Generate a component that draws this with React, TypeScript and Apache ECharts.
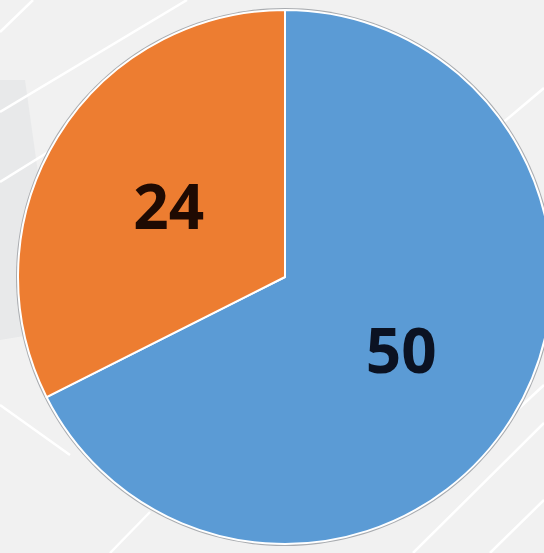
import React, { useEffect, useRef } from "react";
import * as echarts from "echarts";

const categories = ["A", "B"];
const values = [50, 24];
const sliceColors = ["#5B9BD5", "#ED7D31"];
const labelColors = ["#0b1222", "#1f0a02"];

// decorative background lines [x1, y1, x2, y2]
const bgLines = [
  [0, 32, 33, 0],
  [0, 112, 187, 0],
  [0, 182, 140, 95],
  [0, 405, 70, 455],
  [110, 553, 150, 512],
  [413, 553, 544, 423],
  [490, 553, 544, 500],
  [500, 125, 544, 88],
  [515, 412, 544, 385],
];

export default function App() {
  const ref = useRef<HTMLDivElement>(null);
  useEffect(() => {
    if (!ref.current) return;
    const chart = echarts.init(ref.current, null, { renderer: "svg" });
    const cx = 285;
    const cy = 277;
    const r = 267;
    chart.setOption({
      animation: false,
      backgroundColor: "#f1f1f1",
      graphic: [
        {
          type: "polygon",
          z: -10,
          shape: { points: [[0, 80], [25, 80], [60, 330], [0, 340]] },
          style: { fill: "#e8e9ea" },
        },
        ...bgLines.map((l) => ({
          type: "line",
          z: -5,
          shape: { x1: l[0], y1: l[1], x2: l[2], y2: l[3] },
          style: { stroke: "#ffffff", lineWidth: 2.5 },
        })),
        {
          type: "circle",
          z: -1,
          shape: { cx, cy, r: r + 2 },
          style: { fill: "#a9acb0" },
        },
      ],
      series: [
        {
          type: "pie",
          center: [cx, cy],
          radius: r,
          startAngle: 90,
          clockwise: true,
          silent: true,
          itemStyle: { borderColor: "#ffffff", borderWidth: 2 },
          labelLine: { show: false },
          label: {
            show: true,
            position: "inside",
            formatter: "{c}",
            fontSize: 62,
            fontWeight: "bold",
            fontFamily: "Open Sans",
          },
          data: categories.map((c, i) => ({
            name: c,
            value: values[i],
            itemStyle: { color: sliceColors[i] },
            label: { color: labelColors[i] },
          })),
        },
      ],
    });
    return () => chart.dispose();
  }, []);
  return <div ref={ref} style={{ width: 544, height: 553, position: "absolute", left: 0, top: 0 }} />;
}
